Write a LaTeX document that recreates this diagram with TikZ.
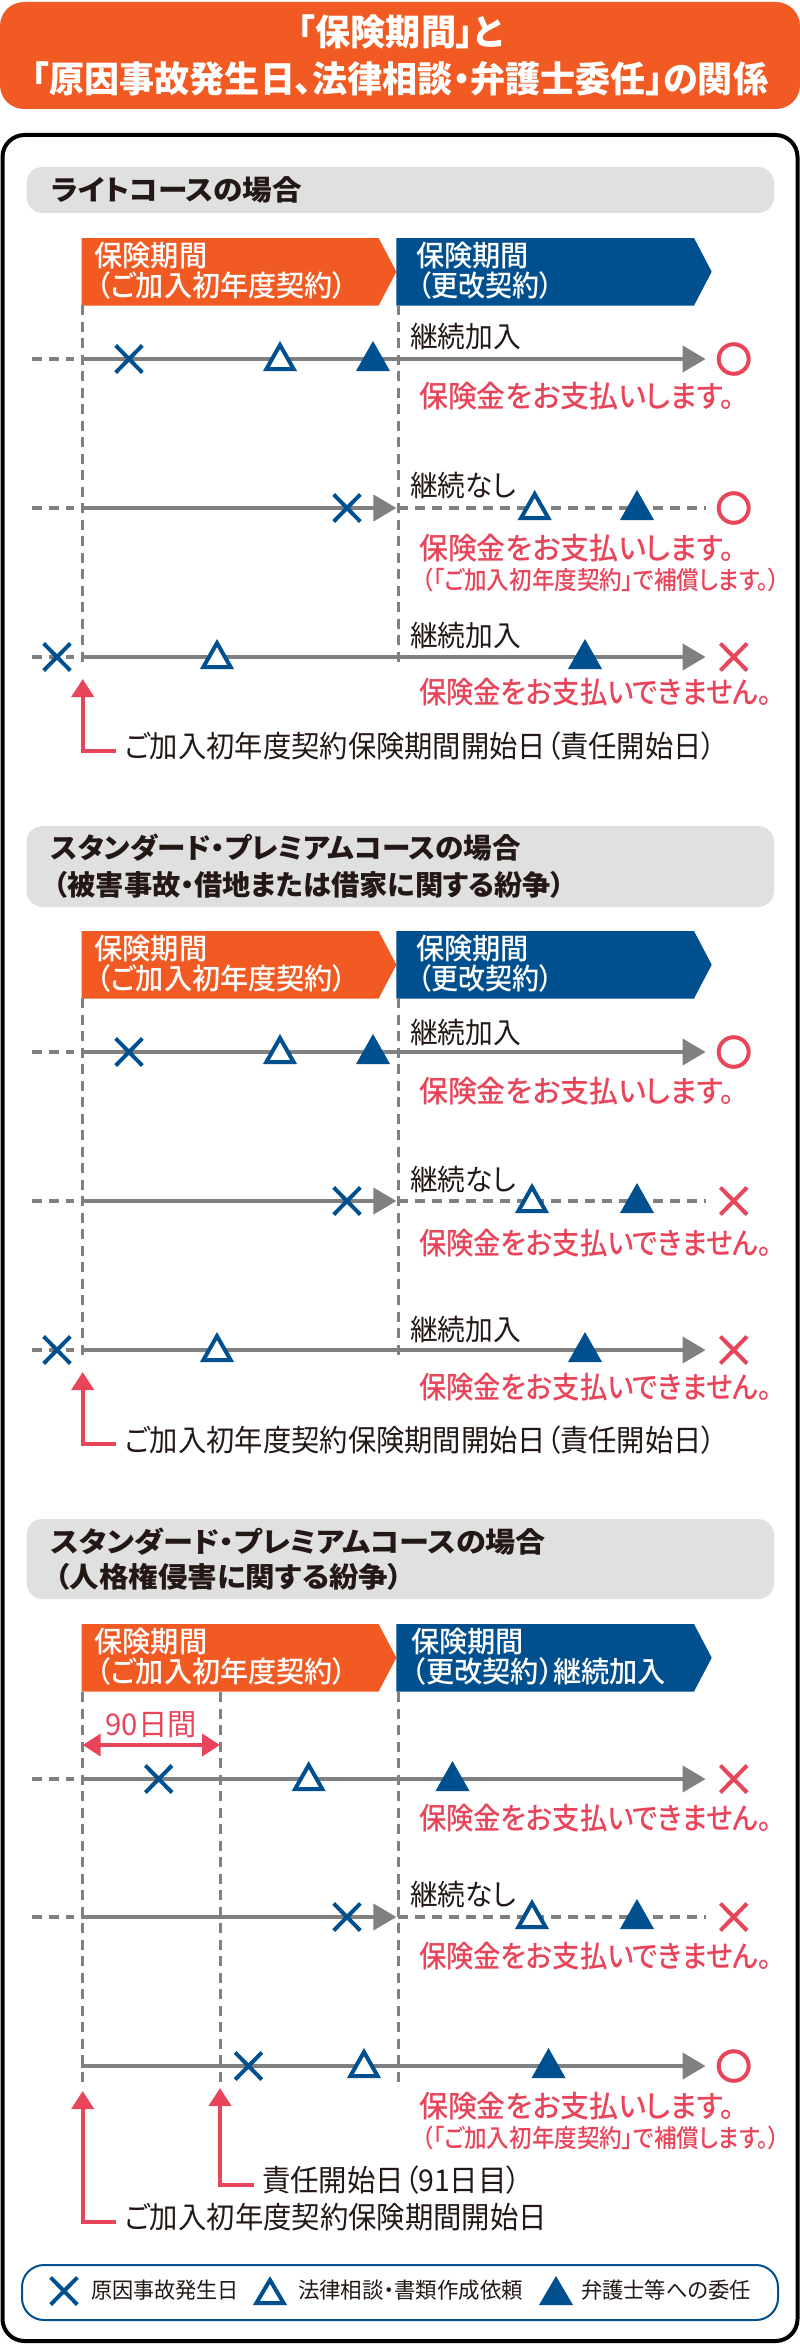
\documentclass[tikz,border=0pt]{standalone}
\usepackage{fontspec}
\usepackage{graphicx}
\usetikzlibrary{arrows.meta}
\setmainfont{Noto Sans CJK JP}[RawFeature=+palt]
\newfontfamily\medf{Noto Sans CJK JP Medium}[RawFeature=+palt]
\definecolor{cOrange}{HTML}{F15A22}
\definecolor{cBlue}{HTML}{004F8E}
\definecolor{cRed}{HTML}{E8455A}
\definecolor{cGray}{HTML}{808080}
\definecolor{cBand}{HTML}{E0E0E0}
\definecolor{cInk}{HTML}{231815}
\tikzset{
  lbl/.style={anchor=base west,inner sep=0pt,outer sep=0pt},
  vdash/.style={draw=cGray,line width=3pt,dash pattern=on 10pt off 6.5pt},
  hdash/.style={draw=cGray,line width=4pt,dash pattern=on 10pt off 7pt},
  tline/.style={draw=cGray,line width=4pt},
  tlinea/.style={tline,-{Triangle[length=23pt,width=26pt]}},
  redarrow/.style={draw=cRed,line width=4pt,-{Triangle[length=18pt,width=22pt]},cRed},
  reddouble/.style={draw=cRed,line width=4pt,{Triangle[length=18pt,width=22pt]}-{Triangle[length=18pt,width=22pt]},cRed},
  bandbox/.style={fill=cBand,rounded corners=16pt},
}
% name, x-left, y-centre, width, size, colour, text
\newcommand\tx[7]{\node[lbl] (#1) at (#2,#3+0.36*#5) {\fontsize{#5pt}{#5pt}\selectfont\color{#6}\resizebox{#4pt}{\height}{#7}};}
\newcommand\xmark[3]{\draw[#3,line width=4pt] (#1-13.3,#2-13.5) -- (#1+13.3,#2+13.5) (#1-13.3,#2+13.5) -- (#1+13.3,#2-13.5);}
\newcommand\otri[2]{\draw[cBlue,fill=white,line width=4pt,miter limit=10] (#1-13.6,#2+10) -- (#1+13.6,#2+10) -- (#1,#2-14) -- cycle;}
\newcommand\ftri[2]{\fill[cBlue] (#1-17,#2+12) -- (#1+17,#2+12) -- (#1,#2-18) -- cycle;}
\newcommand\okm[1]{\draw[cRed,line width=4pt] (733.7,#1) ellipse [x radius=15pt,y radius=14.8pt];}
\newcommand\nom[1]{\xmark{733.7}{#1}{cRed}}
\newcommand\banners[3]{%
  \fill[cOrange] (81.6,#1) -- (378.6,#1) -- (396.4,#1+33.75) -- (378.6,#1+67.5) -- (81.6,#1+67.5) -- cycle;
  \fill[cBlue] (396.4,#1) -- (694,#1) -- (711.7,#1+33.75) -- (694,#1+67.5) -- (396.4,#1+67.5) -- cycle;
  \tx{#2a}{94.4}{#1+18.5}{113}{29}{white}{\medf 保険期間}
  \tx{#2b}{97}{#1+48}{250}{29}{white}{\medf （ご加入初年度契約）}
  #3}
\newcommand\blueA[2]{\tx{#2c}{416}{#1+18.5}{113}{29}{white}{\medf 保険期間}
  \tx{#2d}{418}{#1+48}{135}{29}{white}{\medf （更改契約）}}
% id, x, top, bottom
\newcommand\vguide[4]{\coordinate (#1t) at (#2,#3); \coordinate (#1b) at (#2,#4); \draw[vdash] (#1t) -- (#1b);}
\newcommand\leftdash[2]{\coordinate (#1l) at (32,#2); \coordinate (#1m) at (74,#2); \draw[hdash] (#1l) -- (#1m);}
\newcommand\fullline[2]{\coordinate (#1s) at (81,#2); \coordinate (#1e) at (705.6,#2); \draw[tlinea] (#1s) -- (#1e);}
\newcommand\brokenline[2]{\coordinate (#1s) at (81,#2); \coordinate (#1k) at (396.4,#2); \coordinate (#1n) at (398,#2); \coordinate (#1e) at (705.6,#2);
  \draw[hdash] (#1n) -- (#1e); \draw[tlinea] (#1s) -- (#1k);}
\newcommand\lbA[2]{\tx{#1}{410}{#2}{111}{29}{cInk}{継続加入}}
\newcommand\lbN[2]{\tx{#1}{410}{#2}{106}{29}{cInk}{継続なし}}
\newcommand\msgY[2]{\tx{#1}{419}{#2}{316}{30}{cRed}{\medf 保険金をお支払いします。}}
\newcommand\msgN[2]{\tx{#1}{419}{#2}{353}{30}{cRed}{\medf 保険金をお支払いできません。}}
\newcommand\msgS[2]{\tx{#1}{422}{#2}{358}{25}{cRed}{\medf （「ご加入初年度契約」で補償します。）}}
\begin{document}
\begin{tikzpicture}[x=1pt,y=-1pt]
\useasboundingbox (0,0) rectangle (800,2344);
% title
\fill[cOrange,rounded corners=24pt] (0,2) rectangle (800,109);
\tx{t1}{298}{33}{205}{36}{white}{\bfseries 「保険期間」と}
\tx{t2}{32}{80}{736}{36}{white}{\bfseries 「原因事故発生日、法律相談・弁護士委任」の関係}
% frame
\draw[black,line width=4pt,rounded corners=22pt] (2.5,135) rectangle (797.5,2341);
% ---------- section 1
\fill[bandbox] (26.5,167) rectangle (774,213);
\tx{h1}{51}{190}{251}{28}{cInk}{\bfseries ライトコースの場合}
\banners{238}{p}{\blueA{238}{p}}
\vguide{g1a}{82.7}{305}{666}
\vguide{g1b}{398}{305}{666}
\leftdash{a1}{359}\fullline{a1}{359}
\xmark{129}{359}{cBlue}\otri{280}{359}\ftri{373}{359}\okm{359}
\lbA{a1x}{337}\msgY{a1y}{397}
\leftdash{a2}{508}\brokenline{a2}{508}
\xmark{347}{508}{cBlue}\otri{534.7}{508}\ftri{637}{508}\okm{508}
\lbN{a2x}{486}\msgY{a2y}{549}\msgS{a2z}{580}
\leftdash{a3}{657}\fullline{a3}{657}
\xmark{57}{657}{cBlue}\otri{217}{657}\ftri{585}{657}\nom{657}
\lbA{a3x}{636}\msgN{a3y}{693}
\tx{a4}{125}{747}{591}{30}{cInk}{ご加入初年度契約保険期間開始日（責任開始日）}
\coordinate (a4e) at (116,751); \coordinate (a4c) at (82.7,751); \coordinate (a4t) at (82.7,679);
\draw[redarrow] (a4e) -- (a4c) -- (a4t);
% ---------- section 2
\fill[bandbox] (26.5,826) rectangle (774,907);
\tx{h2a}{51}{848}{470}{28}{cInk}{\bfseries スタンダード・プレミアムコースの場合}
\tx{h2b}{53.6}{885}{511.6}{28}{cInk}{\bfseries （被害事故・借地または借家に関する紛争）}
\banners{931}{q}{\blueA{931}{q}}
\vguide{g2a}{82.7}{998}{1359}
\vguide{g2b}{398}{998}{1359}
\leftdash{b1}{1052}\fullline{b1}{1052}
\xmark{129}{1052}{cBlue}\otri{280}{1052}\ftri{373}{1052}\okm{1052}
\lbA{b1x}{1033}\msgY{b1y}{1092}
\leftdash{b2}{1201}\brokenline{b2}{1201}
\xmark{347}{1201}{cBlue}\otri{532}{1201}\ftri{637}{1201}\nom{1201}
\lbN{b2x}{1180}\msgN{b2y}{1244}
\leftdash{b3}{1350}\fullline{b3}{1350}
\xmark{57}{1350}{cBlue}\otri{217}{1350}\ftri{585}{1350}\nom{1350}
\lbA{b3x}{1330}\msgN{b3y}{1388}
\tx{b4}{125}{1441}{591}{30}{cInk}{ご加入初年度契約保険期間開始日（責任開始日）}
\coordinate (b4e) at (116,1444); \coordinate (b4c) at (82.7,1444); \coordinate (b4t) at (82.7,1372);
\draw[redarrow] (b4e) -- (b4c) -- (b4t);
% ---------- section 3
\fill[bandbox] (26.5,1519) rectangle (774,1599);
\tx{h3a}{51}{1542}{495}{28}{cInk}{\bfseries スタンダード・プレミアムコースの場合}
\tx{h3b}{55}{1577}{348}{28}{cInk}{\bfseries （人格権侵害に関する紛争）}
\banners{1624}{r}{%
  \tx{rc}{411}{1624+18.5}{113}{29}{white}{\medf 保険期間}
  \tx{rd}{412}{1624+48}{254}{29}{white}{\medf （更改契約）継続加入}}
\vguide{g3a}{82.7}{1692}{2084}
\vguide{g3c}{220}{1692}{2084}
\vguide{g3b}{398}{1692}{2084}
\tx{c0}{105.6}{1725}{91}{30}{cRed}{90日間}
\coordinate (c0l) at (82.7,1745); \coordinate (c0r) at (220,1745);
\draw[reddouble] (c0l) -- (c0r);
\leftdash{c1}{1779}\fullline{c1}{1779}
\xmark{158.7}{1779}{cBlue}\otri{308.7}{1779}\ftri{452.5}{1779}\nom{1779}
\msgN{c1y}{1819}
\leftdash{c2}{1917}\brokenline{c2}{1917}
\xmark{347}{1917}{cBlue}\otri{532}{1917}\ftri{637}{1917}\nom{1917}
\lbN{c2x}{1895}\msgN{c2y}{1957}
\fullline{c3}{2066}
\xmark{248.5}{2066}{cBlue}\otri{364}{2066}\ftri{548.5}{2066}\okm{2066}
\msgY{c3y}{2107}\msgS{c3z}{2138}
\tx{c4}{262}{2181}{259}{30}{cInk}{責任開始日（91日目）}
\coordinate (c4e) at (254,2185); \coordinate (c4c) at (220,2185); \coordinate (c4t) at (220,2088);
\draw[redarrow] (c4e) -- (c4c) -- (c4t);
\tx{c5}{125}{2218}{422}{30}{cInk}{ご加入初年度契約保険期間開始日}
\coordinate (c5e) at (116,2222); \coordinate (c5c) at (82.7,2222); \coordinate (c5t) at (82.7,2091);
\draw[redarrow] (c5e) -- (c5c) -- (c5t);
% ---------- legend
\draw[cBlue,line width=2pt,rounded corners=22pt] (22,2265) rectangle (778,2320);
\xmark{64}{2291}{cBlue}
\draw[cBlue,fill=white,line width=4pt,miter limit=10] (270-13.6,2303) -- (270+13.6,2303) -- (270,2280) -- cycle;
\fill[cBlue] (556-17,2305) -- (556+17,2305) -- (556,2276) -- cycle;
\tx{l1}{91}{2291}{148}{22}{cInk}{原因事故発生日}
\tx{l2}{298}{2291}{225}{22}{cInk}{法律相談・書類作成依頼}
\tx{l3}{581}{2291}{170}{22}{cInk}{弁護士等への委任}
\end{tikzpicture}
\end{document}
